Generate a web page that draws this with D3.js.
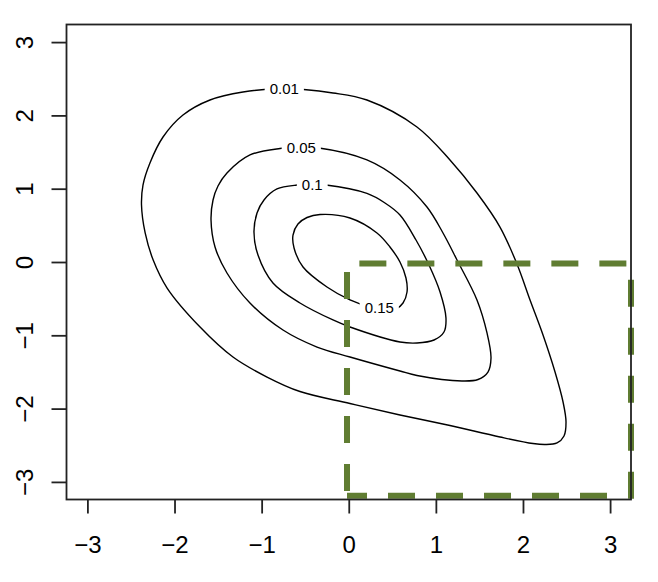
<!DOCTYPE html>
<html><head><meta charset="utf-8">
<script src="https://cdn.jsdelivr.net/npm/d3@7/dist/d3.min.js"></script>
<style>body{margin:0;background:#fff}svg{display:block}</style>
</head><body><svg id="c" width="658" height="582"></svg>
<script>
// ---- data ----
const xTicks = [-3, -2, -1, 0, 1, 2, 3];
const yTicks = [-3, -2, -1, 0, 1, 2, 3];
const axisLimits = [-3.24, 3.24];

const levelLabels = ["0.01", "0.05", "0.1", "0.15"];
const labelX = [-0.740, -0.545, -0.419, 0.350];
const labelY = [2.360, 1.555, 1.050, -0.628];

const contour001 = [
  [-0.732,2.367],[-0.181,2.306],[0.209,2.210],[0.783,1.842],[1.162,1.392],[1.472,0.941],
  [1.736,0.477],[1.931,-0.027],[2.081,-0.518],[2.230,-0.996],[2.368,-1.501],[2.460,-1.910],
  [2.494,-2.183],[2.471,-2.374],[2.391,-2.469],[2.253,-2.490],[2.115,-2.476],[1.736,-2.387],
  [1.162,-2.231],[0.588,-2.087],[0.014,-1.930],[-0.560,-1.767],[-0.938,-1.569],[-1.329,-1.296],
  [-1.707,-0.887],[-2.085,-0.355],[-2.245,0.027],[-2.337,0.396],[-2.379,0.778],[-2.362,1.050],
  [-2.282,1.351],[-2.132,1.705],[-1.903,2.005],[-1.593,2.210],[-1.214,2.319]
];
const contour005 = [
  [-0.548,1.562],[-0.342,1.555],[0.209,1.392],[0.588,1.119],[0.898,0.750],[1.082,0.396],
  [1.243,0.027],[1.472,-0.518],[1.587,-0.968],[1.633,-1.310],[1.598,-1.501],[1.484,-1.603],
  [1.300,-1.623],[0.783,-1.548],[0.588,-1.487],[0.014,-1.296],[-0.364,-1.160],[-0.755,-0.928],
  [-1.134,-0.559],[-1.398,-0.150],[-1.535,0.205],[-1.581,0.573],[-1.558,0.846],[-1.501,1.037],
  [-1.398,1.214],[-1.134,1.460],[-0.789,1.548]
];
const contour010 = [
  [-0.422,1.057],[-0.261,1.050],[0.209,0.935],[0.416,0.805],[0.588,0.641],[0.772,0.300],
  [0.921,-0.041],[1.048,-0.409],[1.116,-0.764],[1.093,-0.955],[0.979,-1.064],[0.783,-1.105],
  [0.588,-1.091],[0.014,-0.887],[-0.181,-0.791],[-0.560,-0.559],[-0.870,-0.286],[-1.042,0.095],
  [-1.088,0.409],[-1.053,0.668],[-0.973,0.846],[-0.824,0.996],[-0.594,1.050]
];
const contour015 = [
  [-0.330,0.648],[0.014,0.600],[0.324,0.396],[0.473,0.205],[0.588,0.000],[0.657,-0.218],
  [0.669,-0.409],[0.623,-0.559],[0.542,-0.641],[0.359,-0.655],[0.152,-0.580],[0.014,-0.518],
  [-0.250,-0.341],[-0.525,-0.068],[-0.628,0.191],[-0.640,0.368],[-0.583,0.518],[-0.479,0.607]
];
const contours = [contour001, contour005, contour010, contour015];

// dashed region (x range, y range)
const regionX = [-0.02, 3.24];
const regionY = [-3.19, -0.02];

// ---- drawing ----
const svg = d3.select("#c");
svg.append("rect").attr("width", 658).attr("height", 582).attr("fill", "#fff");

const x = d3.scaleLinear().domain(axisLimits).range([66.5, 631]);
const y = d3.scaleLinear().domain(axisLimits).range([499.5, 24.5]);

const FONT = "'Liberation Sans', Arial, Helvetica, sans-serif";

// contours
const line = d3.line().x(d => x(d[0])).y(d => y(d[1])).curve(d3.curveCatmullRomClosed.alpha(0.5));
svg.append("g").selectAll("path").data(contours).join("path")
  .attr("d", line).attr("fill", "none").attr("stroke", "#000").attr("stroke-width", 1.4);

// contour labels with gaps
const lg = svg.append("g");
levelLabels.forEach((t, i) => {
  const g = lg.append("g");
  const r = g.append("rect").attr("fill", "#fff");
  const tx = g.append("text").attr("x", x(labelX[i])).attr("y", y(labelY[i]))
    .attr("text-anchor", "middle").attr("dy", "0.36em")
    .attr("font-family", FONT).attr("font-size", 15).attr("fill", "#000").text(t);
  const b = tx.node().getBBox();
  r.attr("x", b.x - 5).attr("y", b.y + 2).attr("width", b.width + 10).attr("height", b.height - 4);
});

// dashed rectangle
const rp = d3.path();
rp.moveTo(x(regionX[0]), y(regionY[0]));
rp.lineTo(x(regionX[1]), y(regionY[0]));
rp.lineTo(x(regionX[1]), y(regionY[1]));
rp.lineTo(x(regionX[0]), y(regionY[1]));
rp.closePath();
svg.append("path").attr("d", rp.toString()).attr("fill", "none")
  .attr("stroke", "#607d32").attr("stroke-width", 6)
  .attr("stroke-dasharray", "27 21").attr("stroke-dashoffset", 7)
  .attr("stroke-linecap", "butt").attr("stroke-linejoin", "miter");

// box
svg.append("rect").attr("x", x(axisLimits[0])).attr("y", y(axisLimits[1]))
  .attr("width", x(axisLimits[1]) - x(axisLimits[0]))
  .attr("height", y(axisLimits[0]) - y(axisLimits[1]))
  .attr("fill", "none").attr("stroke", "#222").attr("stroke-width", 1.8);

// x axis
const gx = svg.append("g").attr("transform", `translate(0,${y(axisLimits[0])})`)
  .call(d3.axisBottom(x).tickValues(xTicks).tickSize(14).tickFormat(d => d < 0 ? "\u2212" + Math.abs(d) : String(d)));
gx.select(".domain").remove();
gx.selectAll("line").attr("stroke", "#222").attr("stroke-width", 1.8);
gx.selectAll("text").attr("y", 53.5).attr("dy", 0)
  .attr("font-family", FONT).attr("font-size", 24).attr("fill", "#000");

// y axis
const gy = svg.append("g").attr("transform", `translate(${x(axisLimits[0])},0)`)
  .call(d3.axisLeft(y).tickValues(yTicks).tickSize(15).tickFormat(d => d < 0 ? "\u2212" + Math.abs(d) : String(d)));
gy.select(".domain").remove();
gy.selectAll("line").attr("stroke", "#222").attr("stroke-width", 1.8);
gy.selectAll("text").attr("x", 0).attr("dy", 0).attr("text-anchor", "middle")
  .attr("transform", `translate(${33 - x(axisLimits[0])},0) rotate(-90)`)
  .attr("font-family", FONT).attr("font-size", 24).attr("fill", "#000");
</script>
</body></html>
